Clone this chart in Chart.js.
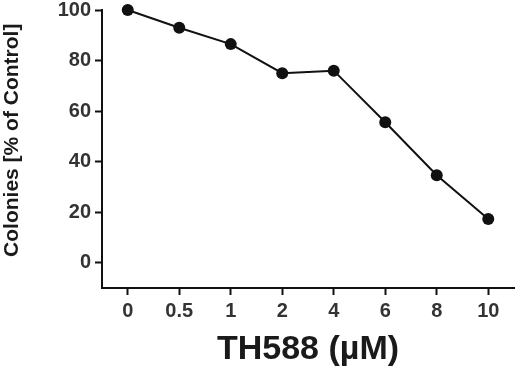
<!DOCTYPE html>
<html>
<head>
<meta charset="utf-8">
<script src="https://cdn.jsdelivr.net/npm/chart.js@4/dist/chart.umd.min.js"></script>
<style>
  html, body { margin: 0; padding: 0; background: #fff; }
  #wrap { width: 520px; height: 370px; }
</style>
</head>
<body>
<div id="wrap"><canvas id="chart" width="520" height="370"></canvas></div>
<script>
// TH588 dose vs colonies (% of control)
const doses = ['0', '0.5', '1', '2', '4', '6', '8', '10'];
const colonies = [100, 93, 86.5, 75, 76, 55.6, 34.6, 17.3];
const yTicks = [0, 20, 40, 60, 80, 100];

const FONT = '"Liberation Sans", Arial, Helvetica, sans-serif';
const INK = '#111';

new Chart(document.getElementById('chart').getContext('2d'), {
  type: 'line',
  data: {
    labels: doses,
    datasets: [{
      data: colonies,
      borderColor: INK,
      borderWidth: 2,
      pointRadius: 6,
      pointBackgroundColor: INK,
      pointBorderColor: INK,
      pointBorderWidth: 0,
      tension: 0,
      fill: false,
      clip: false
    }]
  },
  options: {
    responsive: false,
    animation: false,
    layout: { padding: { top: 0, right: 0, bottom: 0, left: 0 } },
    plugins: { legend: { display: false }, tooltip: { enabled: false } },
    scales: {
      x: {
        type: 'category',
        offset: true,
        grid: { offset: false, drawOnChartArea: false, drawTicks: true, tickLength: 7, tickWidth: 2, tickColor: INK },
        border: { display: true, color: INK, width: 2 },
        ticks: { color: '#333', font: { family: FONT, size: 20, weight: 'bold' }, padding: 4, maxRotation: 0 },
        title: { display: true, text: 'TH588 (µM)', color: '#1a1a1a', font: { family: FONT, size: 34, weight: 'bold' }, padding: 0 },
        afterFit: s => { s.height = 82; }
      },
      y: {
        min: -10,
        max: 100,
        grid: { drawOnChartArea: false, drawTicks: true, tickLength: 7, tickWidth: 2, tickColor: INK },
        border: { display: true, color: INK, width: 2 },
        afterBuildTicks: s => { s.ticks = yTicks.map(v => ({ value: v })); },
        ticks: { color: '#333', font: { family: FONT, size: 20, weight: 'bold', lineHeight: 0.6 }, padding: 4 },
        title: { display: true, text: '   Colonies [% of Control]', color: '#1a1a1a', font: { family: FONT, size: 21, weight: 'bold' }, padding: 0 },
        afterFit: s => { s.width = 102; }
      }
    }
  }
});
</script>
</body>
</html>
